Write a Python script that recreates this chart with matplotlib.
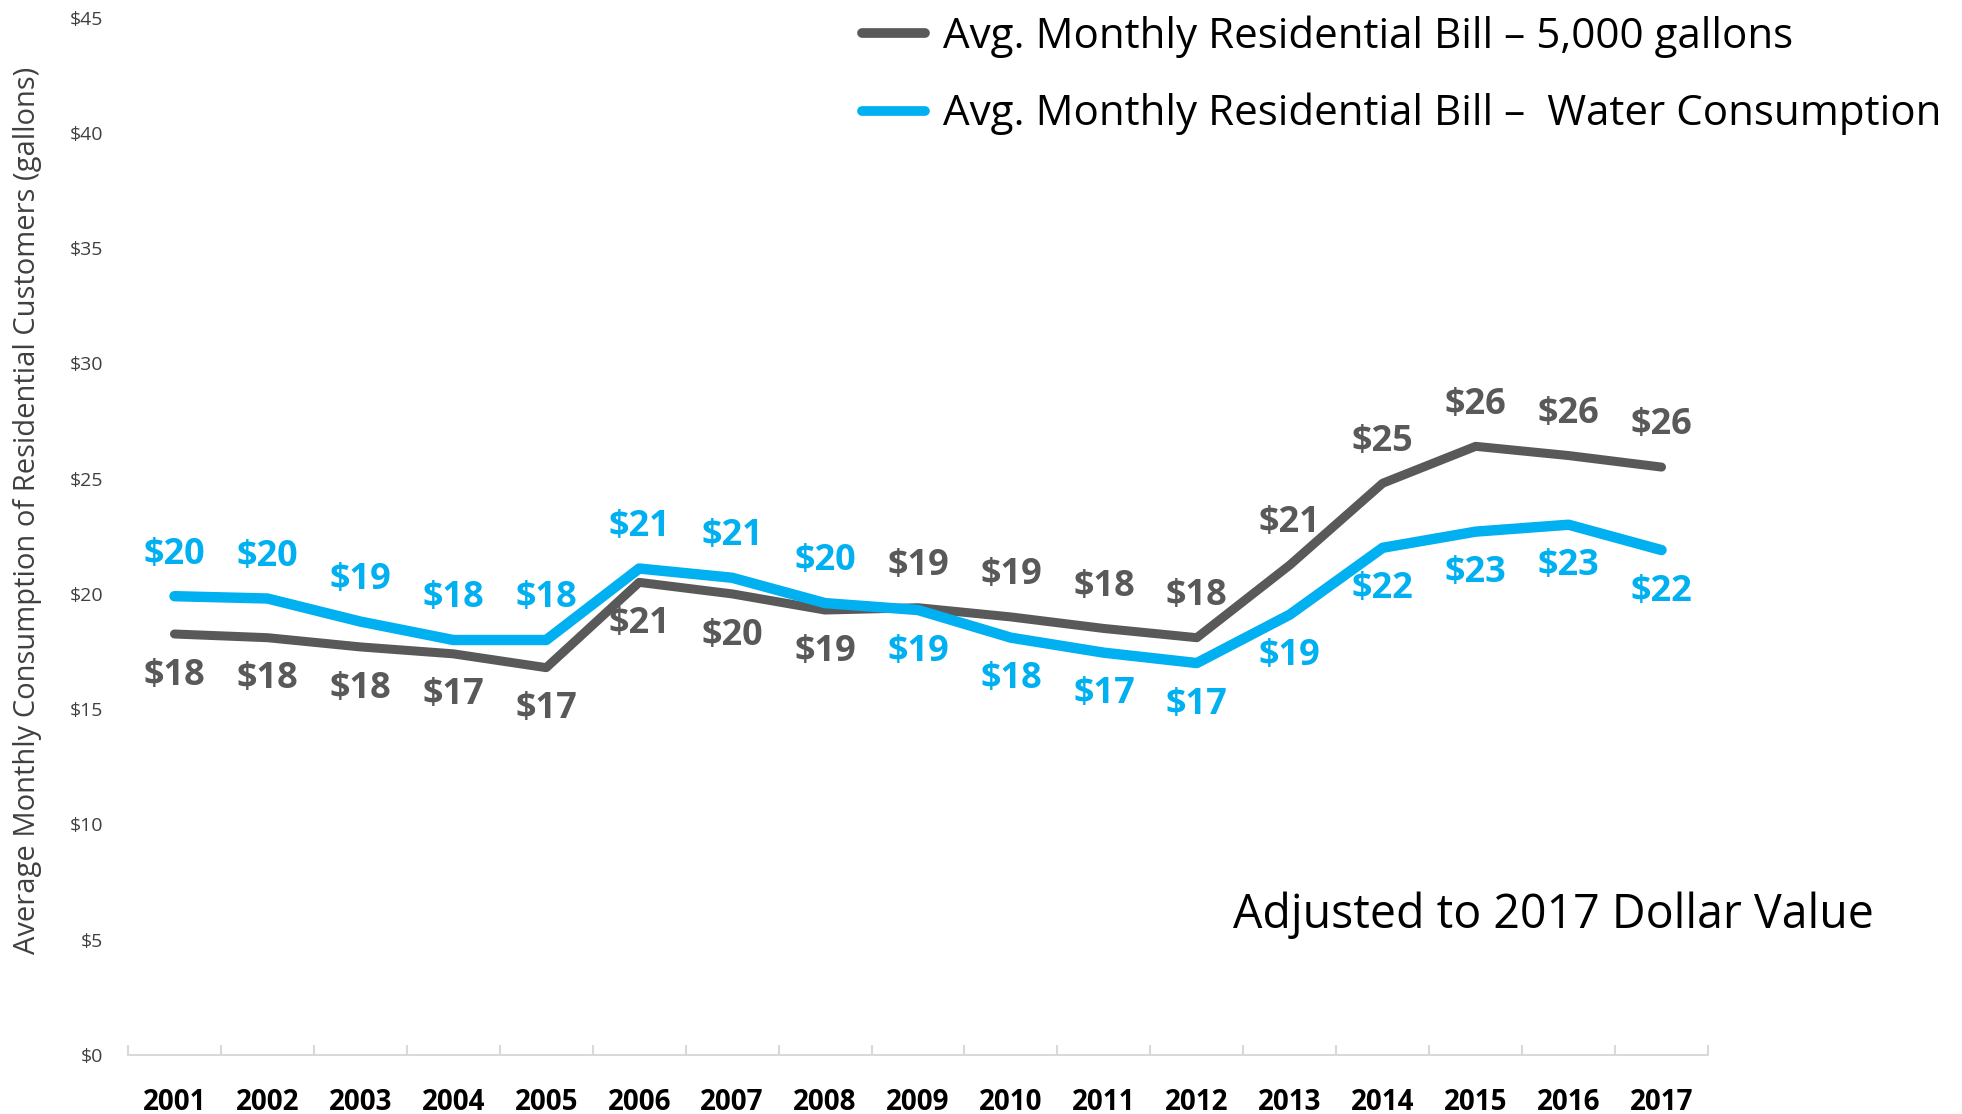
import matplotlib
matplotlib.use("Agg")
import matplotlib.pyplot as plt
from matplotlib.ticker import FuncFormatter, FixedLocator

plt.rcParams['font.family'] = ['Open Sans', 'DejaVu Sans']

years = ['2001', '2002', '2003', '2004', '2005', '2006', '2007', '2008', '2009',
         '2010', '2011', '2012', '2013', '2014', '2015', '2016', '2017']
bill_5000 = [18.26, 18.1, 17.7, 17.4, 16.8, 20.5, 20.0, 19.3, 19.4,
             19.0, 18.5, 18.1, 21.25, 24.8, 26.4, 26.0, 25.5]
bill_consumption = [19.9, 19.8, 18.8, 18.0, 18.0, 21.1, 20.7, 19.6, 19.3,
                    18.1, 17.45, 17.0, 19.1, 22.0, 22.7, 23.0, 21.9]
labels_5000 = ['$18', '$18', '$18', '$17', '$17', '$21', '$20', '$19', '$19',
               '$19', '$18', '$18', '$21', '$25', '$26', '$26', '$26']
labels_consumption = ['$20', '$20', '$19', '$18', '$18', '$21', '$21', '$20', '$19',
                      '$18', '$17', '$17', '$19', '$22', '$23', '$23', '$22']
series_names = ['Avg. Monthly Residential Bill \u2013 5,000 gallons',
                'Avg. Monthly Residential Bill \u2013  Water Consumption']

GRAY = '#595959'
BLUE = '#00B0F0'

W, H = 1962, 1114
fig = plt.figure(figsize=(W / 100, H / 100), dpi=100)
ax = fig.add_axes([128 / W, 59 / H, 1580 / W, 1037.5 / H])

x = list(range(1, len(years) + 1))
l1, = ax.plot(x, bill_5000, color=GRAY, lw=6.5, solid_capstyle='round',
              solid_joinstyle='round', zorder=3)
l2, = ax.plot(x, bill_consumption, color=BLUE, lw=7.5, solid_capstyle='round',
              solid_joinstyle='round', zorder=4)

off = 30
for xi, g, b, lg, lb in zip(x, bill_5000, bill_consumption, labels_5000, labels_consumption):
    g_up = g >= b
    ax.annotate(lg, (xi, g), xytext=(0, off if g_up else -off), textcoords='offset points',
                ha='center', va='center', fontsize=26, fontweight='bold', color=GRAY, zorder=5)
    ax.annotate(lb, (xi, b), xytext=(0, -off if g_up else off), textcoords='offset points',
                ha='center', va='center', fontsize=26, fontweight='bold', color=BLUE, zorder=5)

ax.set_xlim(0.5, len(years) + 0.5)
ax.set_ylim(0, 45)
ax.set_yticks(range(0, 46, 5))
ax.yaxis.set_major_formatter(FuncFormatter(lambda v, p: f'${int(v)}'))
ax.tick_params(axis='y', length=0, pad=18, labelsize=14, labelcolor='#404040')

ax.set_xticks(x)
ax.set_xticklabels(years, fontsize=20, fontweight='bold', color='black')
ax.tick_params(axis='x', which='major', length=0, pad=24)
ax.xaxis.set_minor_locator(FixedLocator([i + 0.5 for i in range(0, len(years) + 1)]))
ax.tick_params(axis='x', which='minor', length=7, direction='in', color='#D9D9D9', width=1.5)

for s in ['top', 'right', 'left']:
    ax.spines[s].set_visible(False)
ax.spines['bottom'].set_color('#D9D9D9')
ax.spines['bottom'].set_linewidth(1.5)

ax.set_ylabel('Average Monthly Consumption of Residential Customers (gallons)',
              fontsize=21, color='#404040')
ax.yaxis.set_label_coords(-0.0544, 0.525)

leg = fig.legend([l1, l2], series_names, loc='upper left',
                 bbox_to_anchor=(862 / W, 1 - 15 / H), frameon=False, fontsize=30.3,
                 handlelength=1.5, handletextpad=0.42, labelspacing=0.84,
                 borderpad=0, borderaxespad=0)
for line in leg.get_lines():
    line.set_linewidth(7)
    line.set_solid_capstyle('round')

fig.text(1553 / W, 1 - 915 / H, 'Adjusted to 2017 Dollar Value', fontsize=33.5,
         ha='center', va='center', color='black')

fig.savefig('out.png', dpi=100)
